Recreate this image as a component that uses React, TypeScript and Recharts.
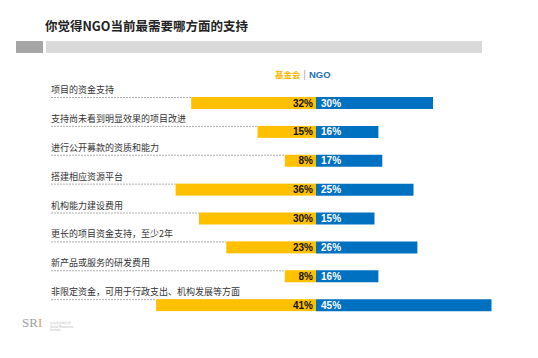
import { BarChart, Bar, XAxis, YAxis, LabelList } from 'recharts';

const categories = [
    '项目的资金支持',
    '支持尚未看到明显效果的项目改进',
    '进行公开募款的资质和能力',
    '搭建相应资源平台',
    '机构能力建设费用',
    '更长的项目资金支持，至少2年',
    '新产品或服务的研发费用',
    '非限定资金，可用于行政支出、机构发展等方面',
];
const foundationValues = [32, 15, 8, 36, 30, 23, 8, 41];
const ngoValues = [30, 16, 17, 25, 15, 26, 16, 45];

const YELLOW = '#FFC000';
const BLUE = '#0070C0';
const LABEL_X = 51;

const data = categories.map((name, i) => ({
    name,
    foundation: -foundationValues[i],
    ngo: ngoValues[i],
}));

const FoundationShape = (props: any) => {
    const { x, y, width, height, payload } = props;
    const left = Math.min(x, x + width);
    const w = Math.abs(width);
    return (
        <g>
            <line x1={LABEL_X} x2={left} y1={y + 0.5} y2={y + 0.5} stroke="#9a9a9a" strokeWidth={0.8} strokeDasharray="2 1" />
            <text x={LABEL_X} y={y - 4} fontSize={9} fill="#333" fontFamily="'Noto Sans CJK SC', sans-serif">
                {payload.name}
            </text>
            <rect x={left} y={y} width={w} height={height} fill={YELLOW} />
        </g>
    );
};

const FoundationLabel = (props: any) => {
    const { x, y, width, height, value } = props;
    const right = Math.max(x, x + width);
    return (
        <text x={right - 3} y={y + height / 2 + 3.5} textAnchor="end" fontSize={10} fontWeight="bold" fill="#111" fontFamily="Arial, 'Liberation Sans', sans-serif">
            {Math.abs(value)}%
        </text>
    );
};

const NgoLabel = (props: any) => {
    const { x, y, height, value } = props;
    return (
        <text x={x + 5} y={y + height / 2 + 3.5} textAnchor="start" fontSize={10} fontWeight="bold" fill="#fff" fontFamily="Arial, 'Liberation Sans', sans-serif">
            {value}%
        </text>
    );
};

export default function App() {
    return (
        <div style={{ position: 'absolute', left: 0, top: 0, width: 538, height: 358, background: '#fff', overflow: 'hidden' }}>
            <div style={{ position: 'absolute', left: 45, top: 16, fontSize: 12.5, fontWeight: 'bold', color: '#222', fontFamily: "'Noto Sans CJK SC', serif", whiteSpace: 'nowrap' }}>
                你觉得NGO当前最需要哪方面的支持
            </div>
            <div style={{ position: 'absolute', left: 16, top: 41, width: 27, height: 12, background: '#A6A6A6' }} />
            <div style={{ position: 'absolute', left: 46, top: 41, width: 436, height: 12, background: '#D9D9D9' }} />
            <div style={{ position: 'absolute', left: 275, top: 68, fontWeight: 'bold', fontFamily: "'Noto Sans CJK SC', sans-serif", whiteSpace: 'nowrap', fontSize: 9 }}>
                <span style={{ color: '#F5B800', fontSize: 8.5 }}>基金会</span>
                <span style={{ color: '#888', fontWeight: 'normal', margin: '0 3px' }}>|</span>
                <span style={{ color: '#1F6FB5', fontSize: 9.5, fontFamily: "Arial, 'Liberation Sans', sans-serif" }}>NGO</span>
            </div>
            <div style={{ position: 'absolute', left: 0, top: 0 }}>
                <BarChart
                    width={538}
                    height={358}
                    data={data}
                    layout="vertical"
                    stackOffset="sign"
                    barSize={12}
                    margin={{ top: 89, right: 46.5, bottom: 38, left: 140.5 }}
                >
                    <XAxis type="number" domain={[-45, 45]} hide />
                    <YAxis type="category" dataKey="name" hide />
                    <Bar dataKey="foundation" stackId="a" fill={YELLOW} shape={<FoundationShape />} isAnimationActive={false}>
                        <LabelList dataKey="foundation" content={<FoundationLabel />} />
                    </Bar>
                    <Bar dataKey="ngo" stackId="a" fill={BLUE} isAnimationActive={false}>
                        <LabelList dataKey="ngo" content={<NgoLabel />} />
                    </Bar>
                </BarChart>
            </div>
            <div style={{ position: 'absolute', left: 22, top: 315, fontFamily: "'Liberation Serif', serif", fontSize: 13, color: '#A0A0A0', whiteSpace: 'nowrap' }}>
                SR<span style={{ color: '#D9A06A' }}>I</span>
            </div>
            <div style={{ position: 'absolute', left: 50, top: 322, fontSize: 3, lineHeight: '3.5px', color: '#BBB', fontFamily: 'sans-serif' }}>
                社会资源研究所<br />Social Resources<br />Institute
            </div>
        </div>
    );
}
